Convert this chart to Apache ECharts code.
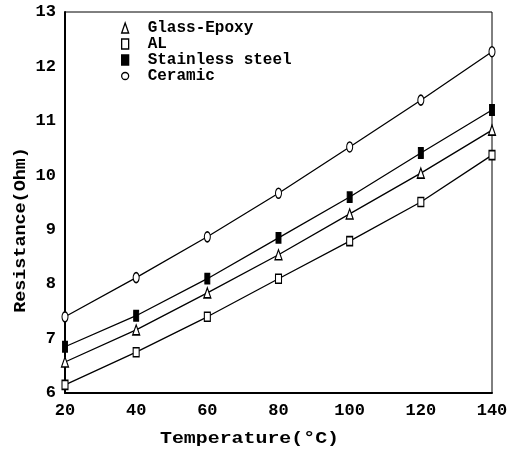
<!DOCTYPE html>
<html>
<head>
<meta charset="utf-8">
<script src="https://cdn.jsdelivr.net/npm/echarts@6/dist/echarts.min.js"></script>
<style>
  html, body { margin: 0; padding: 0; background: #fff; }
  #chart { width: 517px; height: 451px; }
</style>
</head>
<body>
<div id="chart"></div>
<script>
// Resistance of the sensor on four substrates versus temperature
const temperature = [20, 40, 60, 80, 100, 120, 140];
const glassEpoxy = [6.57, 7.16, 7.84, 8.54, 9.29, 10.04, 10.83];
const aluminium = [6.15, 6.75, 7.40, 8.10, 8.79, 9.51, 10.37];
const stainlessSteel = [6.85, 7.42, 8.10, 8.85, 9.60, 10.41, 11.20];
const ceramic = [7.40, 8.12, 8.87, 9.67, 10.52, 11.38, 12.27];

const xTicks = [20, 40, 60, 80, 100, 120, 140];
const yTicks = [6, 7, 8, 9, 10, 11, 12, 13];

const FONT = '"Liberation Mono", "DejaVu Sans Mono", monospace';

function pairs(values) {
  return temperature.map((t, i) => [t, values[i]]);
}

// shape: base symbol; hollow: drawn as an outline with white fill
const seriesDefs = [
  { name: 'Glass-Epoxy', data: glassEpoxy, shape: 'triangle', hollow: true, size: [7, 10] },
  { name: 'AL', data: aluminium, shape: 'rect', hollow: true, size: [6, 9] },
  { name: 'Stainless steel', data: stainlessSteel, shape: 'rect', hollow: false, size: [5, 10] },
  { name: 'Ceramic', data: ceramic, shape: 'circle', hollow: true, size: [6, 10] }
];

function markStyle(s) {
  return { color: s.hollow ? '#fff' : '#000', borderColor: '#000', borderWidth: 1.3 };
}

const chart = echarts.init(document.getElementById('chart'), null, { renderer: 'canvas' });

chart.setOption({
  animation: false,
  backgroundColor: '#fff',
  grid: {
    left: 65, right: 25, top: 12, bottom: 58,
    show: true, borderColor: '#000', borderWidth: 1
  },
  legend: {
    orient: 'vertical',
    left: 121, top: 20,
    padding: 0,
    itemWidth: 7, itemHeight: 10, itemGap: 0,
    textStyle: {
      fontFamily: FONT, fontSize: 16, fontWeight: 'bold', color: '#000',
      lineHeight: 16, padding: [0, 0, 0, 14]
    },
    data: seriesDefs.map(s => ({
      name: s.name,
      icon: s.shape,
      itemStyle: markStyle(s)
    }))
  },
  xAxis: {
    type: 'value',
    min: 20, max: 140, interval: 20,
    axisLine: { show: true, lineStyle: { color: '#000', width: 2 } },
    axisTick: { show: false },
    splitLine: { show: false },
    axisLabel: {
      margin: 9, color: '#000', fontFamily: FONT, fontSize: 17, fontWeight: 'bold',
      formatter: v => xTicks.includes(v) ? String(v) : ''
    }
  },
  yAxis: {
    type: 'value',
    min: 6, max: 13, interval: 1,
    axisLine: { show: true, lineStyle: { color: '#000', width: 2 } },
    axisTick: { show: false },
    splitLine: { show: false },
    axisLabel: {
      margin: 9, color: '#000', fontFamily: FONT, fontSize: 17, fontWeight: 'bold',
      formatter: v => yTicks.includes(v) ? String(v) : ''
    }
  },
  graphic: [
    {
      type: 'text', x: 160, y: 430, scaleX: 1.17,
      style: { text: 'Temperature(°C)', font: 'bold 17px ' + FONT, fill: '#000' }
    },
    {
      type: 'text', x: 21, y: 230, rotation: Math.PI / 2, scaleX: 1.15,
      style: { text: 'Resistance(Ohm)', font: 'bold 16px ' + FONT, fill: '#000', align: 'center', verticalAlign: 'middle' }
    }
  ],
  series: seriesDefs.map(s => ({
    name: s.name,
    type: 'line',
    data: pairs(s.data),
    symbol: s.shape,
    symbolSize: s.size,
    showAllSymbol: true,
    lineStyle: { color: '#000', width: 1.3 },
    itemStyle: markStyle(s),
    emphasis: { disabled: true }
  }))
});
</script>
</body>
</html>
